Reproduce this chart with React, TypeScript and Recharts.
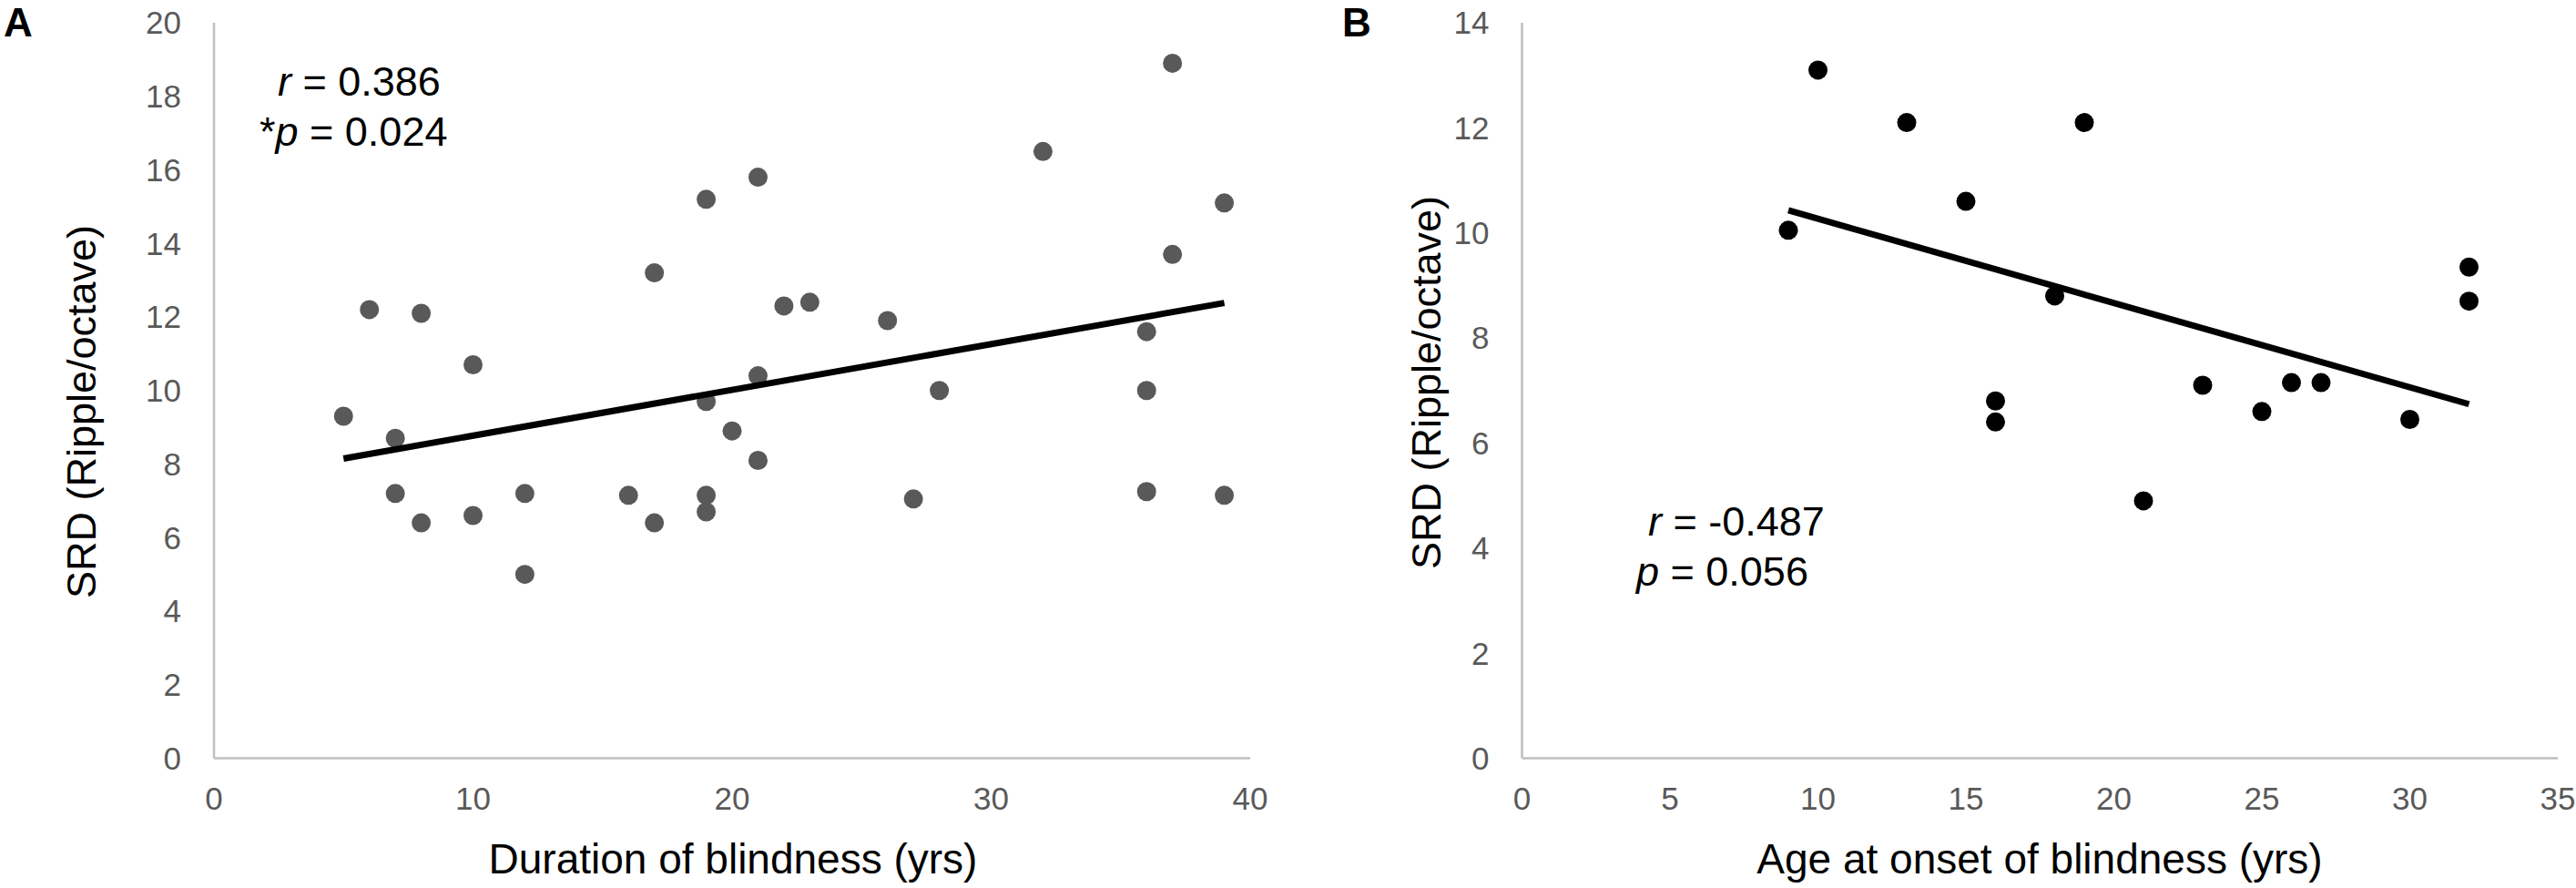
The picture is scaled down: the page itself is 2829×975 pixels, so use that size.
import React from "react";
import { ScatterChart, Scatter, XAxis, YAxis } from "recharts";

// Panel A: duration of blindness vs SRD
const durationYears = [5, 6, 7, 7, 8, 8, 10, 10, 12, 12, 16, 17, 17, 19, 19, 19, 19, 20, 21, 21, 21, 22, 23, 26, 27, 28, 32, 36, 36, 36, 37, 37, 39, 39];
const srdA = [9.3, 12.2, 8.7, 7.2, 12.1, 6.4, 10.7, 6.6, 7.2, 5.0, 7.15, 13.2, 6.4, 15.2, 9.7, 7.15, 6.7, 8.9, 15.8, 10.4, 8.1, 12.3, 12.4, 11.9, 7.05, 10.0, 16.5, 11.6, 10.0, 7.25, 18.9, 13.7, 15.1, 7.15];
const trendA = [
  { x: 5, y: 8.15 },
  { x: 39, y: 12.38 },
];
const xTicksA = [0, 10, 20, 30, 40];
const yTicksA = [0, 2, 4, 6, 8, 10, 12, 14, 16, 18, 20];

// Panel B: age at onset of blindness vs SRD
const onsetYears = [9, 10, 13, 15, 16, 16, 18, 19, 21, 23, 25, 26, 27, 30, 32, 32];
const srdB = [10.05, 13.1, 12.1, 10.6, 6.8, 6.4, 8.8, 12.1, 4.9, 7.1, 6.6, 7.15, 7.15, 6.45, 9.35, 8.7];
const trendB = [
  { x: 9, y: 10.43 },
  { x: 32, y: 6.74 },
];
const xTicksB = [0, 5, 10, 15, 20, 25, 30, 35];
const yTicksB = [0, 2, 4, 6, 8, 10, 12, 14];

const pointsA = durationYears.map((x, i) => ({ x, y: srdA[i] }));
const pointsB = onsetYears.map((x, i) => ({ x, y: srdB[i] }));

const FONT = "'Liberation Sans', Arial, sans-serif";
const AXIS_GREY = "#bfbfbf";
const tickStyle = { fill: "#595959", fontSize: 35, fontFamily: FONT };

const dot = (color: string) => (props: any) =>
  <circle cx={props.cx} cy={props.cy} r={10.5} fill={color} />;

const noShape = () => <g />;

function Panel({ width, xDomain, xTicks, yDomain, yTicks, yAxisWidth, right, points, trend, color }: any) {
  return (
    <ScatterChart
      width={width}
      height={975}
      margin={{ top: 25, right, bottom: 0, left: 0 }}
    >
      <XAxis
        type="number"
        dataKey="x"
        domain={xDomain}
        ticks={xTicks}
        interval={0}
        height={142.5}
        tickSize={0}
        tickMargin={32}
        tickLine={false}
        axisLine={{ stroke: AXIS_GREY, strokeWidth: 2.5 }}
        tick={tickStyle}
      />
      <YAxis
        type="number"
        dataKey="y"
        domain={yDomain}
        ticks={yTicks}
        interval={0}
        width={yAxisWidth}
        tickSize={0}
        tickMargin={36}
        tickLine={false}
        axisLine={{ stroke: AXIS_GREY, strokeWidth: 2.5 }}
        tick={tickStyle}
      />
      <Scatter data={points} shape={dot(color)} isAnimationActive={false} />
      <Scatter
        data={trend}
        shape={noShape}
        line={{ stroke: "#000", strokeWidth: 7 }}
        isAnimationActive={false}
      />
    </ScatterChart>
  );
}

export default function App() {
  return (
    <div style={{ position: "relative", width: 2829, height: 975, background: "#fff", fontFamily: FONT }}>
      <style>{`body{margin:0}`}</style>
      <div style={{ position: "absolute", left: 0, top: 0 }}>
        <Panel
          width={1420}
          xDomain={[0, 40]}
          xTicks={xTicksA}
          yDomain={[0, 20]}
          yTicks={yTicksA}
          yAxisWidth={235}
          right={47}
          points={pointsA}
          trend={trendA}
          color="#595959"
        />
      </div>
      <div style={{ position: "absolute", left: 1420, top: 0 }}>
        <Panel
          width={1409}
          xDomain={[0, 35]}
          xTicks={xTicksB}
          yDomain={[0, 14]}
          yTicks={yTicksB}
          yAxisWidth={251.5}
          right={20}
          points={pointsB}
          trend={trendB}
          color="#000"
        />
      </div>
      <svg
        width={2829}
        height={975}
        style={{ position: "absolute", left: 0, top: 0, pointerEvents: "none" }}
        fontFamily={FONT}
      >
        <text x={4} y={40} fontSize={44} fontWeight="bold">A</text>
        <text x={1474} y={40} fontSize={44} fontWeight="bold">B</text>

        <text x={305} y={105} fontSize={45}>
          <tspan fontStyle="italic">r</tspan> = 0.386
        </text>
        <text x={285} y={160} fontSize={45}>
          *<tspan fontStyle="italic">p</tspan> = 0.024
        </text>
        <text x={1810} y={588} fontSize={45}>
          <tspan fontStyle="italic">r</tspan> = -0.487
        </text>
        <text x={1797} y={643} fontSize={45}>
          <tspan fontStyle="italic">p</tspan> = 0.056
        </text>

        <text x={805} y={959} fontSize={46} textAnchor="middle">Duration of blindness (yrs)</text>
        <text x={2240} y={959} fontSize={46} textAnchor="middle">Age at onset of blindness (yrs)</text>
        <text transform="translate(105,452) rotate(-90)" fontSize={45} textAnchor="middle">SRD (Ripple/octave)</text>
        <text transform="translate(1582,420) rotate(-90)" fontSize={45} textAnchor="middle">SRD (Ripple/octave)</text>
      </svg>
    </div>
  );
}
